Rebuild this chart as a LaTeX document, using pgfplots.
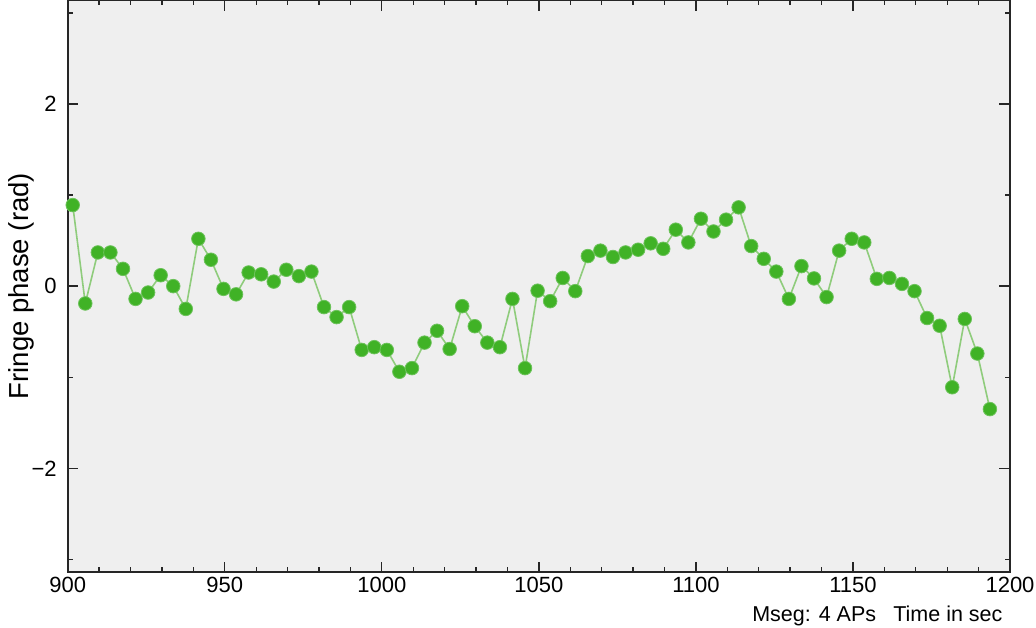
\documentclass[border=0pt]{standalone}
\usepackage{fontspec}
\setmainfont{Liberation Sans}
\usepackage{pgfplots}
\pgfplotsset{compat=1.18}
\definecolor{bgc}{HTML}{EFEFEF}
\definecolor{mfill}{HTML}{40B226}
\definecolor{mdraw}{HTML}{6CC25A}
\definecolor{lc}{HTML}{8FCC7C}
\begin{document}
\begin{tikzpicture}
\path[use as bounding box] (-67.7pt,-54.7pt) rectangle (968.3pt,572.3pt);
\begin{axis}[
  scale only axis,
  width=942.3pt, height=572.3pt,
  xmin=900, xmax=1200,
  ymin=-3.14159, ymax=3.14159,
  axis background/.style={fill=bgc},
  axis line style={line width=1.8pt, color=black!85},
  xtick={900,950,1000,1050,1100,1150,1200},
  xticklabels={900,950,1000,1050,1100,1150,1200},
  minor x tick num=4,
  ytick={-2,0,2},
  yticklabels={−2,0,2},
  minor ytick={-3,-1,1,3},
  tick align=inside,
  major tick length=10.7pt,
  minor tick length=5.5pt,
  every tick/.style={line width=1.3pt, color=black!85},
  tick label style={font=\fontsize{22}{26}\selectfont},
  yticklabel style={xshift=-7.5pt},
  xticklabel style={yshift=-1pt},
  every axis y label/.style={at={(axis description cs:-0.04956,0.5)}, anchor=center, rotate=90, font=\fontsize{27.5}{32}\selectfont},
  every axis x label/.style={at={(axis description cs:1,0)}, anchor=base east, xshift=-4pt, yshift=-49.4pt, font=\fontsize{21.5}{25}\selectfont},
  ylabel={Fringe phase (rad)},
  xlabel={Mseg: 4 APs\hspace{0.8em}Time in sec},
]
\addplot[color=lc, line width=1.6pt, mark=*, mark size=6.8pt,
  mark options={fill=mfill, draw=mdraw, line width=0.8pt}]
coordinates {
(901.6,0.89) (905.6,-0.19) (909.6,0.37) (913.6,0.37) (917.6,0.19)
(921.6,-0.14) (925.6,-0.07) (929.6,0.12) (933.6,0.00) (937.6,-0.25)
(941.6,0.52) (945.6,0.29) (949.6,-0.03) (953.6,-0.09) (957.6,0.15)
(961.6,0.13) (965.6,0.05) (969.6,0.18) (973.6,0.11) (977.6,0.16)
(981.6,-0.23) (985.6,-0.34) (989.6,-0.23) (993.6,-0.70) (997.6,-0.67)
(1001.6,-0.70) (1005.6,-0.94) (1009.6,-0.90) (1013.6,-0.62) (1017.6,-0.49)
(1021.6,-0.69) (1025.6,-0.22) (1029.6,-0.44) (1033.6,-0.62) (1037.6,-0.67)
(1041.6,-0.14) (1045.6,-0.90) (1049.6,-0.05) (1053.6,-0.165) (1057.6,0.09)
(1061.6,-0.055) (1065.6,0.33) (1069.6,0.39) (1073.6,0.32) (1077.6,0.37)
(1081.6,0.40) (1085.6,0.47) (1089.6,0.41) (1093.6,0.62) (1097.6,0.48)
(1101.6,0.74) (1105.6,0.60) (1109.6,0.73) (1113.6,0.865) (1117.6,0.44)
(1121.6,0.30) (1125.6,0.16) (1129.6,-0.14) (1133.6,0.22) (1137.6,0.085)
(1141.6,-0.12) (1145.6,0.39) (1149.6,0.52) (1153.6,0.48) (1157.6,0.08)
(1161.6,0.09) (1165.6,0.025) (1169.6,-0.055) (1173.6,-0.35) (1177.6,-0.435)
(1181.6,-1.11) (1185.6,-0.36) (1189.6,-0.74) (1193.6,-1.35)
};
\end{axis}
\end{tikzpicture}
\end{document}
